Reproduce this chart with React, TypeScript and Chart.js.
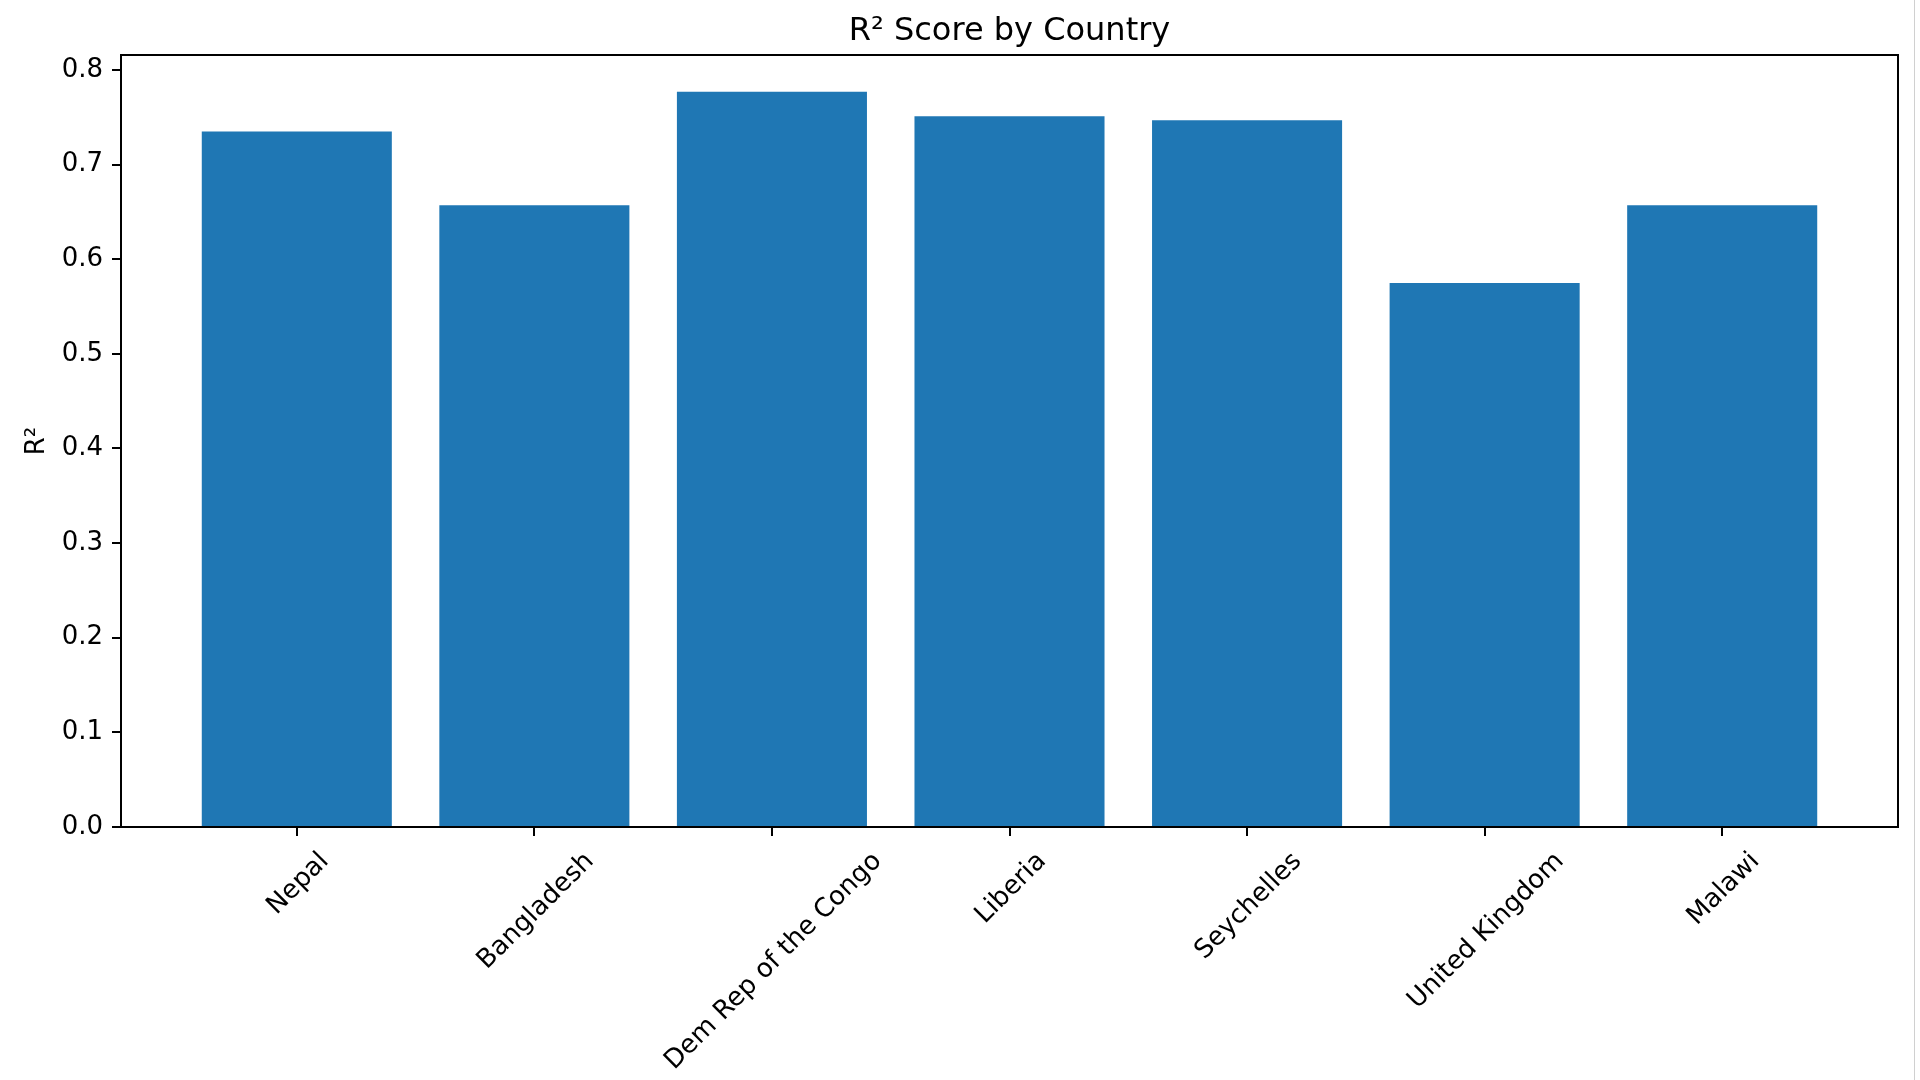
import React, { useEffect, useRef } from "react";
import { Chart, registerables } from "chart.js";

Chart.register(...registerables);

const countries = [
  "Nepal",
  "Bangladesh",
  "Dem Rep of the Congo",
  "Liberia",
  "Seychelles",
  "United Kingdom",
  "Malawi",
];
const r2Scores = [0.735, 0.657, 0.777, 0.751, 0.747, 0.575, 0.657];
const yTickValues = [0, 0.1, 0.2, 0.3, 0.4, 0.5, 0.6, 0.7, 0.8];
const chartTitle = "R² Score by Country";
const yAxisLabel = "R²";

const FONT = '"DejaVu Sans", "Liberation Sans", sans-serif';
const BAR_COLOR = "#1f77b4";
const TICK_FS = 26;
const TITLE_FS = 32;

const overlayPlugin = {
  id: "mplOverlay",
  afterDraw(chart: any) {
    const { ctx, chartArea: a, scales } = chart;
    ctx.save();
    // spines
    ctx.strokeStyle = "#000";
    ctx.lineWidth = 2;
    ctx.strokeRect(a.left, a.top, a.right - a.left, a.bottom - a.top);

    ctx.fillStyle = "#000";
    // title
    ctx.font = `${TITLE_FS}px ${FONT}`;
    ctx.textAlign = "center";
    ctx.textBaseline = "alphabetic";
    ctx.fillText(chartTitle, (a.left + a.right) / 2, a.top - 15);

    // y axis label
    ctx.save();
    ctx.font = `${TICK_FS}px ${FONT}`;
    ctx.translate(44, (a.top + a.bottom) / 2);
    ctx.rotate(-Math.PI / 2);
    ctx.textAlign = "center";
    ctx.textBaseline = "alphabetic";
    ctx.fillText(yAxisLabel, 0, 0);
    ctx.restore();

    // x tick labels, rotated 45deg, centered on tick (matplotlib ha=center)
    ctx.font = `${TICK_FS}px ${FONT}`;
    const fs = TICK_FS;
    const h = fs * 1.164;
    const xs = scales.x;
    countries.forEach((label, i) => {
      const px = xs.getPixelForValue(i);
      const w = ctx.measureText(label).width;
      const D = (w + h) / Math.SQRT2;
      const cy = a.bottom + 18 + D / 2;
      ctx.save();
      ctx.translate(px, cy);
      ctx.rotate(-Math.PI / 4);
      ctx.textAlign = "center";
      ctx.textBaseline = "alphabetic";
      ctx.fillText(label, 0, ((0.928 - 0.236) / 2) * fs);
      ctx.restore();
    });

    // faint frame edge at right
    ctx.strokeStyle = "#d0d0d0";
    ctx.lineWidth = 1;
    ctx.beginPath();
    ctx.moveTo(1914.5, 0);
    ctx.lineTo(1914.5, 1080);
    ctx.stroke();
    ctx.restore();
  },
};

export default function App() {
  const canvasRef = useRef<HTMLCanvasElement | null>(null);

  useEffect(() => {
    const canvas = canvasRef.current;
    if (!canvas) return;
    const n = countries.length;
    const xMargin = 0.05 * (n - 1 + 0.8);
    const yMax = Math.max(...r2Scores) * 1.05;

    const chart = new Chart(canvas, {
      type: "bar",
      data: {
        datasets: [
          {
            label: "R²",
            data: r2Scores.map((v, i) => ({ x: i, y: v })),
            backgroundColor: BAR_COLOR,
            borderWidth: 0,
            barPercentage: 0.8,
            categoryPercentage: 1.0,
          },
        ],
      },
      options: {
        responsive: false,
        animation: false,
        devicePixelRatio: 1,
        layout: { padding: { top: 55, right: 22, left: 0, bottom: 0 } },
        plugins: {
          legend: { display: false },
          tooltip: { enabled: false },
          title: { display: false },
        },
        scales: {
          x: {
            type: "linear",
            offset: false,
            min: -0.4 - xMargin,
            max: n - 1 + 0.4 + xMargin,
            afterBuildTicks: (scale: any) => {
              scale.ticks = countries.map((_, i) => ({ value: i }));
            },
            afterFit: (scale: any) => {
              scale.height = 253;
            },
            ticks: { display: false },
            grid: {
              offset: false,
              drawOnChartArea: false,
              drawTicks: true,
              tickLength: 9,
              lineWidth: 2,
              color: "#000",
            },
            border: { display: false },
          },
          y: {
            type: "linear",
            min: 0,
            max: yMax,
            afterBuildTicks: (scale: any) => {
              scale.ticks = yTickValues.map((v) => ({ value: v }));
            },
            afterFit: (scale: any) => {
              scale.width = 121;
            },
            ticks: {
              padding: 9,
              color: "#000",
              font: { family: FONT, size: TICK_FS },
              callback: (v: any) => Number(v).toFixed(1),
            },
            grid: {
              drawOnChartArea: false,
              drawTicks: true,
              tickLength: 9,
              lineWidth: 2,
              color: "#000",
            },
            border: { display: false },
          },
        },
      },
      plugins: [overlayPlugin],
    } as any);

    return () => chart.destroy();
  }, []);

  return (
    <div style={{ position: "absolute", left: 0, top: 0, width: 1920, height: 1080, background: "#fff" }}>
      <canvas ref={canvasRef} width={1920} height={1080} style={{ display: "block" }} />
    </div>
  );
}
